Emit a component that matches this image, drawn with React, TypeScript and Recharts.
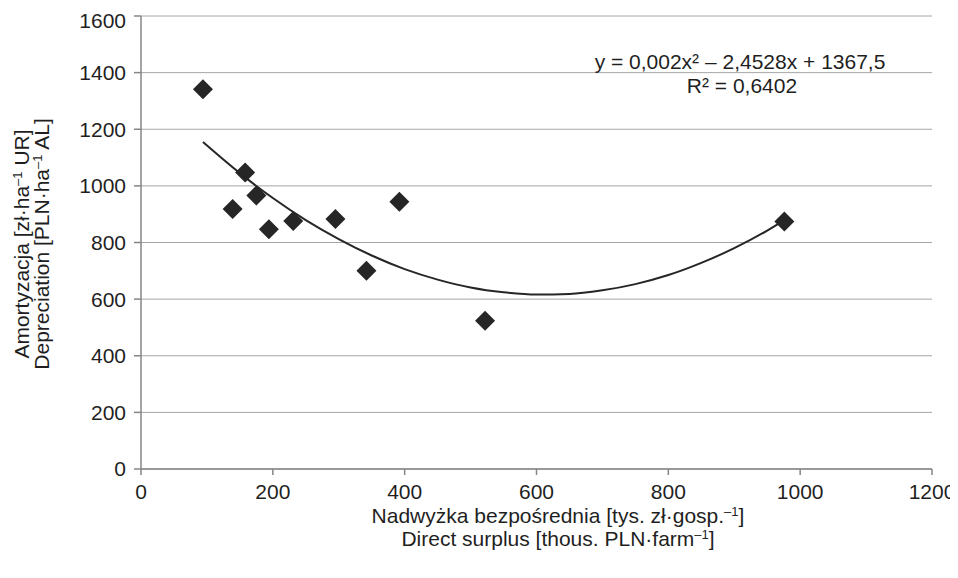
import React from "react";
import { ScatterChart, Scatter, XAxis, YAxis, CartesianGrid } from "recharts";

const surplusX = [94, 139, 158, 175, 194, 231, 295, 342, 392, 522, 976];
const depreciationY = [1341, 918, 1047, 966, 847, 876, 883, 700, 944, 524, 874];

const trendX = [94, 150, 200, 250, 300, 350, 400, 450, 500, 550, 600, 650, 700, 750, 800, 850, 900, 950, 976];
const trendY = [1155, 1045, 957, 879, 812, 754, 706, 669, 641, 624, 616, 618, 631, 653, 685, 728, 780, 842, 879];

const xTicks = [0, 200, 400, 600, 800, 1000, 1200];
const yTicks = [0, 200, 400, 600, 800, 1000, 1200, 1400, 1600];

const equationText = "y = 0,002x² – 2,4528x + 1367,5";
const r2Text = "R² = 0,6402";

const points = surplusX.map((x, i) => ({ x, y: depreciationY[i] }));
const trend = trendX.map((x, i) => ({ x, y: trendY[i] }));

const FONT = "'Liberation Sans', Arial, sans-serif";
const INK = "#1f1f1f";
const FS = 21;
const SUP = 13;

const Diamond = (props: any) => {
  const { cx, cy } = props;
  const h = 10;
  return (
    <polygon
      points={`${cx},${cy - h} ${cx + h},${cy} ${cx},${cy + h} ${cx - h},${cy}`}
      fill="#262626"
    />
  );
};

const Empty = () => <g />;

const YLabel = () => {
  return (
    <text
      transform={`translate(21,236) rotate(-90)`}
      textAnchor="middle"
      fontFamily={FONT}
      fontSize={FS}
      fill={INK}
    >
      <tspan x={0} y={0}>
        Amortyzacja [zł·ha
        <tspan dy={-7} fontSize={SUP}>–1</tspan>
        <tspan dy={7}> UR]</tspan>
      </tspan>
      <tspan x={0} y={20}>
        Depreciation [PLN·ha
        <tspan dy={-7} fontSize={SUP}>–1</tspan>
        <tspan dy={7}> AL]</tspan>
      </tspan>
    </text>
  );
};

const XLabel = () => {
  const cx = 550;
  return (
    <g fontFamily={FONT} fontSize={FS} fill={INK}>
      <text textAnchor="middle" x={cx} y={515}>
        Nadwyżka bezpośrednia [tys. zł·gosp.
        <tspan dy={-7} fontSize={SUP}>–1</tspan>
        <tspan dy={7}>]</tspan>
      </text>
      <text textAnchor="middle" x={cx} y={538}>
        Direct surplus [thous. PLN·farm
        <tspan dy={-7} fontSize={SUP}>–1</tspan>
        <tspan dy={7}>]</tspan>
      </text>
    </g>
  );
};

export default function App() {
  return (
    <div style={{ position: "relative", width: 950, height: 570 }}>
      <ScatterChart
        width={950}
        height={570}
        margin={{ top: 8, right: 26, left: 0, bottom: 0 }}
      >
        <CartesianGrid vertical={false} stroke="#a6a6a6" strokeWidth={1} />
        <XAxis
          type="number"
          dataKey="x"
          domain={[0, 1200]}
          ticks={xTicks}
          height={109}
          stroke="#868686"
          strokeWidth={1.5}
          tickSize={6}
          tickMargin={9}
          tick={{ fill: INK, fontSize: FS, fontFamily: FONT }}
          label={<XLabel />}
          allowDataOverflow
        />
        <YAxis
          type="number"
          dataKey="y"
          domain={[0, 1600]}
          ticks={yTicks}
          width={133}
          stroke="#868686"
          strokeWidth={1.5}
          tickSize={7}
          tickMargin={8}
          tick={{ fill: INK, fontSize: FS, fontFamily: FONT }}
          label={<YLabel />}
          allowDataOverflow
        />
        <Scatter
          data={trend}
          line={{ stroke: "#262626", strokeWidth: 2 }}
          lineJointType="monotoneX"
          shape={<Empty />}
          isAnimationActive={false}
        />
        <Scatter
          data={points}
          shape={<Diamond />}
          fill="#262626"
          isAnimationActive={false}
        />
      </ScatterChart>
      <div
        style={{
          position: "absolute",
          left: 532,
          top: 43,
          width: 400,
          textAlign: "center",
          fontFamily: FONT,
          fontSize: FS,
          lineHeight: "21px",
          color: INK,
          pointerEvents: "none",
          whiteSpace: "nowrap",
        }}
      >
        {equationText}
      </div>
      <div
        style={{
          position: "absolute",
          left: 534,
          top: 67,
          width: 400,
          textAlign: "center",
          fontFamily: FONT,
          fontSize: FS,
          lineHeight: "21px",
          color: INK,
          pointerEvents: "none",
          whiteSpace: "nowrap",
        }}
      >
        {r2Text}
      </div>
    </div>
  );
}
